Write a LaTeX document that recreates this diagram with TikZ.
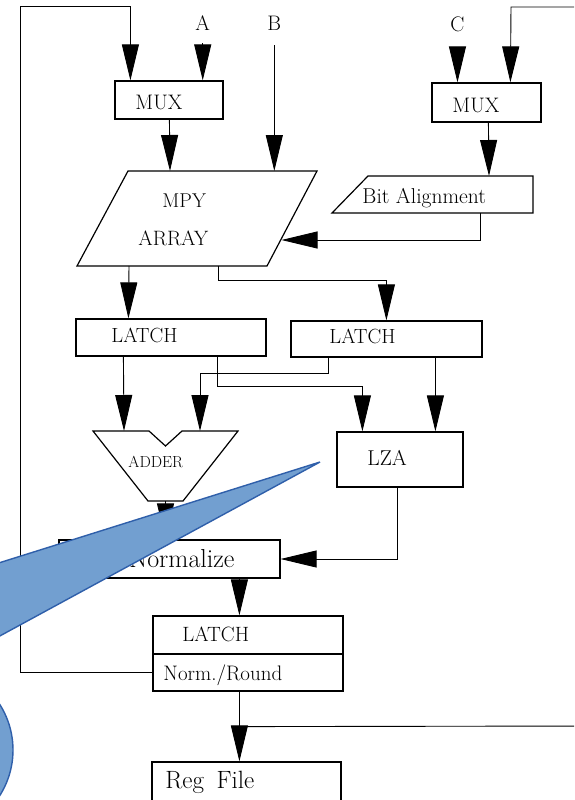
\documentclass[tikz,border=0pt]{standalone}
\usepackage{fontspec}
\usetikzlibrary{arrows.meta,calc}
\definecolor{calfill}{RGB}{114,159,208}
\definecolor{calline}{RGB}{47,95,170}
\newcommand\myfs[1]{\fontsize{#1}{#1}\selectfont}
\begin{document}
\begin{tikzpicture}[x=1pt,y=-1pt,line width=0.9pt,
  box/.style={draw,line width=1.2pt,inner sep=0pt},
  shp/.style={draw,line width=1.2pt},
  lbl/.style={inner sep=0pt,anchor=base west},
  arr/.style={-{Triangle[length=36pt,width=17pt]}},
  callout/.style={fill=calfill,draw=calline,line width=1.4pt}]
\useasboundingbox (0,0) rectangle (574,800);
\clip (0,0) rectangle (574,800);
\fill[white] (0,0) rectangle (574,800);

% ---- boxes ----
\node[box,minimum width=108,minimum height=38] (mux1) at (169,100) {};
\node[box,minimum width=109,minimum height=39] (mux2) at (486.5,102.5) {};
\node[box,minimum width=190,minimum height=37] (latch1) at (171,337.5) {};
\node[box,minimum width=191,minimum height=36] (latch2) at (386.5,339) {};
\node[box,minimum width=126,minimum height=55] (lza) at (400,459.5) {};
\node[box,minimum width=221,minimum height=38] (norm) at (169.5,559) {};
\node[box,minimum width=190,minimum height=38] (latch3) at (248,635) {};
\node[box,minimum width=190,minimum height=37] (round) at (248,672.5) {};
\node[box,minimum width=189,minimum height=58] (regfile) at (246.5,791) {};

% MPY array (parallelogram)
\coordinate (mpyTL) at (128,171);
\coordinate (mpyTR) at (317,171);
\coordinate (mpyBR) at (267,266);
\coordinate (mpyBL) at (77,266);
\draw[shp] (mpyTL) -- (mpyTR) -- (mpyBR) -- (mpyBL) -- cycle;

% Bit alignment
\coordinate (bitTL) at (368,176);
\coordinate (bitTR) at (533,176);
\coordinate (bitBR) at (533,213);
\coordinate (bitBL) at (332,213);
\draw[shp] (bitTL) -- (bitTR) -- (bitBR) -- (bitBL) -- cycle;

% Adder
\coordinate (addTL) at (93,431);
\coordinate (addTR) at (238,431);
\coordinate (addBL) at (148,501);
\coordinate (addBR) at (183,501);
\coordinate (addOut) at (165.5,501);
\draw[shp] (addTL) -- (149,431) -- (165.5,446) -- (182,431) -- (addTR) -- (addBR) -- (addBL) -- cycle;

% ---- labels ----
\node[lbl] (A) at (195,31) {\myfs{21}A};
\node[lbl] (B) at (267,31) {\myfs{21}B};
\node[lbl] (C) at (450,32) {\myfs{21}C};
\node[lbl] (tmux1) at (135,109) {\myfs{21}MUX};
\node[lbl] (tmux2) at (452,112) {\myfs{21}MUX};
\node[lbl] (tmpy) at (162,207) {\myfs{20}MPY};
\node[lbl] (tarray) at (138,245) {\myfs{20.8}ARRAY};
\node[lbl] (tbit) at (362,203) {\myfs{21.5}Bit Alignment};
\node[lbl] (tlatch1) at (111,342) {\myfs{20.5}LATCH};
\node[lbl] (tlatch2) at (329,343) {\myfs{20.5}LATCH};
\node[lbl] (tadder) at (128,467) {\myfs{16}ADDER};
\node[lbl] (tlza) at (367,465) {\myfs{21.5}LZA};
\node[inner sep=0pt,anchor=base east] (tnorm) at (235,567) {\myfs{26}Normalize};
\node[lbl] (tlatch3) at (182,641) {\myfs{20.7}LATCH};
\node[lbl] (tround) at (163,680) {\myfs{21}Norm./Round};
\node[lbl] (treg) at (165,788) {\myfs{25}Reg\hspace{0.5em}File};

% ---- connectors ----
\coordinate (fbL) at (20,6);
\coordinate (fbR) at (511,7);
\coordinate (junc) at ($(round.south west)+(87,35)$);
\coordinate (normIn) at ($(norm.south west)+(181,0)$);
\draw[arr] (round.west) -| (fbL) -| ($(mux1.north west)+(16,0)$);
\draw[arr,shorten <=12pt] (A.south) -- (A.south |- mux1.north);
\draw[arr,shorten <=14pt] (B.south) -- (B.south |- mpyTL);
\draw[arr,shorten <=15pt] (C.south) -- (C.south |- mux2.north);
\draw[arr] (junc) -- (600,726) |- (fbR) -- ($(mux2.north west)+(79,0)$);
\draw[arr] ($(mux1.south west)+(55,0)$) -- (170,171);
\draw[arr] ($(mux2.south west)+(57,0)$) -- (489,176);
\draw[arr] (480,213) |- (281.5,240);
\draw[arr] (129,266) -- ($(latch1.north west)+(53,0)$);
\draw[arr] (218,266) -- (218,280) -| ($(latch2.north west)+(96,0)$);
\draw[arr] ($(latch1.south west)+(48,0)$) -- (124,431);
\draw[arr] ($(latch2.south west)+(38,0)$) -- ++(0,16) -| (200,431);
\draw[arr] ($(latch1.south west)+(142,0)$) -- ++(0,30) -| ($(lza.north west)+(26,0)$);
\draw[arr] ($(latch2.south west)+(145,0)$) -- ($(lza.north west)+(99,0)$);
\draw[arr] (addOut) -- (addOut |- norm.north);
\draw[arr] ($(lza.south west)+(61,0)$) |- (norm.east);
\draw[arr] (normIn) -- (normIn |- latch3.north);
\draw (round.south -| junc) -- (junc);
\draw[arr] (junc) -- (junc |- regfile.north);

% ---- callout ----
\path[callout] (-72,750) circle[radius=85];
\path[callout] (320,462) -- (-100,594) -- (-72,675) -- cycle;
\end{tikzpicture}
\end{document}
